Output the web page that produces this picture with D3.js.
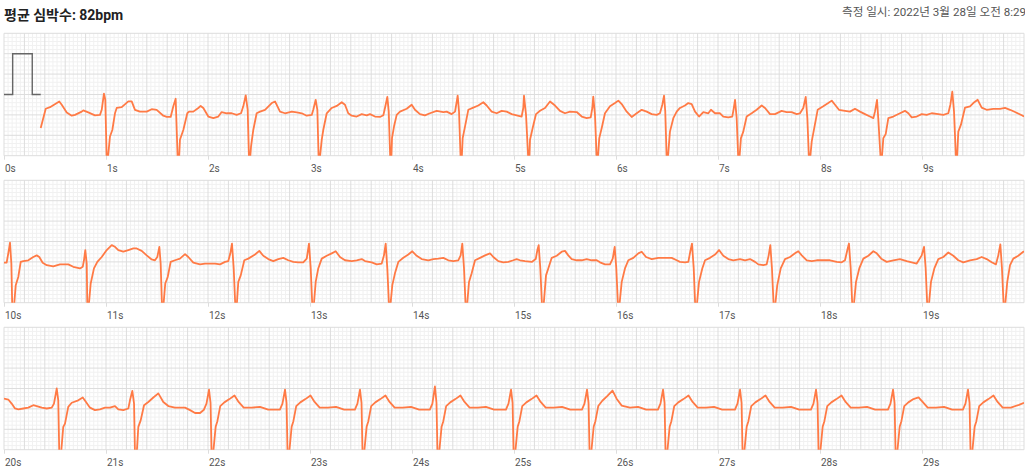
<!DOCTYPE html>
<html><head><meta charset="utf-8">
<script src="https://cdn.jsdelivr.net/npm/d3@7/dist/d3.min.js"></script>
<style>
body{margin:0;background:#fff;}
svg{display:block;font-family:Roboto,"Noto Sans CJK KR",sans-serif;}
</style></head>
<body><svg id="chart" width="1025" height="472"></svg>
<script>
// ---- data ----
const titleText = "평균 심박수: 82bpm";
const measuredText = "측정 일시: 2022년 3월 28일 오전 8:29";
const rowStartSeconds = [0, 10, 20];
const secondsPerRow = 10;
const mvDomain = [-1.5, 1.5];
const tickSeconds = [[0,1,2,3,4,5,6,7,8,9],[10,11,12,13,14,15,16,17,18,19],[20,21,22,23,24,25,26,27,28,29]];
// calibration pulse (s, mV)
const calibration = [[0,0],[0.085,0],[0.085,1],[0.277,1],[0.277,0],[0.36,0]];
// ECG samples (s, mV)
const ecgRow1 = [
[0.360,-0.82],[0.409,-0.35],[0.451,-0.31],[0.542,-0.17],[0.566,-0.25],[0.615,-0.44],[0.664,-0.52],[0.696,-0.50],[0.762,-0.42],[0.777,-0.39],[0.826,-0.44],[0.892,-0.51],[0.941,-0.50],[0.958,-0.375],
[0.980,0.02],[0.993,-0.13],[1.007,-1.6],[1.017,-1.6],[1.039,-1.03],[1.062,-0.87],[1.088,-0.46],[1.105,-0.33],[1.154,-0.31],[1.219,-0.17],[1.252,-0.17],[1.284,-0.375],[1.333,-0.42],[1.399,-0.42],[1.448,-0.36],[1.497,-0.375],[1.562,-0.52],[1.595,-0.55],[1.634,-0.55],[1.660,-0.29],
[1.683,-0.105],[1.703,-1.6],[1.716,-1.6],[1.725,-1.11],[1.758,-0.87],[1.797,-0.46],[1.814,-0.42],[1.856,-0.42],[1.905,-0.33],[1.928,-0.28],[1.954,-0.33],[2.003,-0.54],[2.052,-0.58],[2.101,-0.54],[2.134,-0.43],[2.183,-0.46],[2.232,-0.46],[2.281,-0.50],[2.324,-0.46],[2.346,-0.29],
[2.370,-0.02],[2.389,-0.375],[2.402,-1.6],[2.412,-1.6],[2.422,-1.27],[2.444,-0.87],[2.477,-0.46],[2.510,-0.42],[2.559,-0.375],[2.625,-0.21],[2.657,-0.17],[2.706,-0.42],[2.755,-0.46],[2.821,-0.42],[2.870,-0.44],[2.919,-0.46],[2.968,-0.52],[3.017,-0.50],[3.032,-0.375],
[3.056,-0.13],[3.072,-0.375],[3.085,-1.6],[3.095,-1.6],[3.115,-1.11],[3.130,-0.87],[3.164,-0.46],[3.213,-0.33],[3.262,-0.28],[3.311,-0.19],[3.343,-0.25],[3.375,-0.46],[3.409,-0.52],[3.458,-0.54],[3.507,-0.48],[3.556,-0.51],[3.588,-0.48],[3.637,-0.54],[3.686,-0.55],[3.719,-0.51],[3.735,-0.33],
[3.758,-0.06],[3.772,-0.42],[3.787,-1.6],[3.797,-1.6],[3.804,-1.07],[3.824,-0.78],[3.850,-0.50],[3.882,-0.42],[3.948,-0.35],[3.997,-0.25],[4.029,-0.375],[4.078,-0.48],[4.127,-0.51],[4.176,-0.46],[4.242,-0.40],[4.307,-0.43],[4.340,-0.42],[4.389,-0.48],[4.422,-0.42],
[4.448,-0.03],[4.461,-0.42],[4.477,-1.6],[4.487,-1.6],[4.497,-1.07],[4.520,-0.78],[4.552,-0.375],[4.601,-0.32],[4.650,-0.27],[4.699,-0.19],[4.732,-0.27],[4.781,-0.42],[4.830,-0.46],[4.879,-0.40],[4.928,-0.42],[4.977,-0.48],[5.026,-0.51],[5.075,-0.54],[5.091,-0.33],
[5.098,-0.03],[5.118,-0.50],[5.140,-1.6],[5.150,-1.6],[5.157,-1.11],[5.183,-0.82],[5.216,-0.48],[5.255,-0.40],[5.304,-0.33],[5.353,-0.17],[5.402,-0.27],[5.451,-0.40],[5.500,-0.46],[5.549,-0.42],[5.615,-0.43],[5.664,-0.54],[5.713,-0.58],[5.752,-0.56],[5.768,-0.33],
[5.777,-0.05],[5.794,-0.50],[5.811,-1.6],[5.821,-1.6],[5.836,-1.07],[5.860,-0.82],[5.892,-0.46],[5.941,-0.29],[5.990,-0.21],[6.023,-0.15],[6.056,-0.235],[6.105,-0.42],[6.154,-0.55],[6.203,-0.46],[6.252,-0.375],[6.301,-0.42],[6.350,-0.48],[6.399,-0.50],[6.431,-0.46],[6.454,-0.25],
[6.471,-0.03],[6.483,-0.42],[6.497,-1.6],[6.507,-1.6],[6.529,-0.91],[6.562,-0.58],[6.595,-0.42],[6.627,-0.33],[6.676,-0.27],[6.709,-0.21],[6.742,-0.235],[6.775,-0.42],[6.814,-0.54],[6.856,-0.43],[6.905,-0.46],[6.931,-0.375],[6.971,-0.46],[7.020,-0.46],[7.052,-0.54],[7.101,-0.56],[7.140,-0.54],[7.152,-0.375],
[7.167,-0.13],[7.183,-0.58],[7.199,-1.6],[7.209,-1.6],[7.225,-1.07],[7.248,-0.91],[7.281,-0.54],[7.330,-0.46],[7.379,-0.375],[7.428,-0.27],[7.461,-0.33],[7.510,-0.48],[7.559,-0.48],[7.624,-0.40],[7.673,-0.43],[7.722,-0.43],[7.771,-0.48],[7.804,-0.46],[7.836,-0.33],
[7.860,-0.06],[7.876,-0.58],[7.892,-1.6],[7.902,-1.6],[7.919,-1.15],[7.944,-0.82],[7.977,-0.375],[8.032,-0.29],[8.081,-0.21],[8.115,-0.15],[8.147,-0.25],[8.186,-0.375],[8.245,-0.40],[8.294,-0.42],[8.343,-0.35],[8.392,-0.42],[8.441,-0.48],[8.490,-0.54],[8.523,-0.58],[8.539,-0.42],
[8.559,-0.13],[8.571,-0.58],[8.595,-1.6],[8.605,-1.6],[8.621,-1.07],[8.644,-0.97],[8.670,-0.58],[8.719,-0.54],[8.784,-0.46],[8.833,-0.40],[8.866,-0.46],[8.899,-0.56],[8.948,-0.54],[8.997,-0.48],[9.046,-0.50],[9.095,-0.46],[9.160,-0.48],[9.209,-0.50],[9.258,-0.46],[9.278,-0.25],
[9.297,0.07],[9.314,-0.42],[9.333,-1.6],[9.343,-1.6],[9.356,-0.91],[9.382,-0.74],[9.422,-0.32],[9.471,-0.29],[9.503,-0.21],[9.546,-0.13],[9.585,-0.32],[9.634,-0.375],[9.699,-0.35],[9.765,-0.35],[9.814,-0.33],[9.863,-0.375],[9.912,-0.43],[9.978,-0.51],[10.0,-0.54]
];
const ecgRow2 = [
[10.000,-0.52],[10.026,-0.52],[10.042,-0.29],
[10.059,-0.03],[10.072,-0.54],[10.081,-1.6],[10.098,-1.6],[10.115,-1.07],[10.140,-0.87],[10.164,-0.50],[10.189,-0.48],[10.238,-0.46],[10.287,-0.38],[10.321,-0.34],[10.346,-0.38],[10.379,-0.52],[10.419,-0.58],[10.483,-0.61],[10.549,-0.56],[10.581,-0.56],[10.630,-0.56],[10.679,-0.62],[10.745,-0.66],[10.772,-0.62],[10.784,-0.46],
[10.797,-0.21],[10.811,-0.54],[10.817,-1.6],[10.830,-1.6],[10.850,-1.03],[10.882,-0.66],[10.915,-0.50],[10.958,-0.38],[11.007,-0.21],[11.056,-0.09],[11.088,-0.13],[11.121,-0.21],[11.170,-0.25],[11.219,-0.21],[11.268,-0.17],[11.301,-0.17],[11.350,-0.23],[11.399,-0.34],[11.448,-0.44],[11.480,-0.46],[11.503,-0.38],
[11.523,-0.13],[11.536,-0.54],[11.549,-1.6],[11.562,-1.6],[11.581,-1.03],[11.605,-0.87],[11.634,-0.50],[11.676,-0.46],[11.725,-0.42],[11.775,-0.31],[11.807,-0.38],[11.856,-0.52],[11.922,-0.56],[11.971,-0.54],[12.020,-0.54],[12.069,-0.54],[12.118,-0.56],[12.167,-0.50],[12.199,-0.48],[12.219,-0.29],
[12.235,-0.05],[12.252,-0.66],[12.268,-1.6],[12.281,-1.6],[12.297,-0.99],[12.321,-0.83],[12.356,-0.46],[12.395,-0.42],[12.461,-0.32],[12.503,-0.23],[12.542,-0.35],[12.591,-0.43],[12.640,-0.48],[12.689,-0.43],[12.738,-0.40],[12.787,-0.46],[12.836,-0.50],[12.885,-0.51],[12.934,-0.51],[12.968,-0.42],
[12.990,-0.05],[13.007,-0.66],[13.023,-1.6],[13.036,-1.6],[13.056,-0.99],[13.081,-0.66],[13.115,-0.42],[13.164,-0.35],[13.213,-0.29],[13.252,-0.24],[13.294,-0.38],[13.343,-0.46],[13.409,-0.48],[13.458,-0.46],[13.507,-0.43],[13.539,-0.48],[13.605,-0.51],[13.654,-0.56],[13.703,-0.54],[13.725,-0.34],
[13.742,-0.05],[13.758,-0.66],[13.775,-1.6],[13.787,-1.6],[13.807,-1.07],[13.833,-0.78],[13.866,-0.50],[13.915,-0.40],[13.964,-0.32],[14.003,-0.24],[14.046,-0.35],[14.095,-0.43],[14.160,-0.46],[14.209,-0.43],[14.258,-0.42],[14.307,-0.40],[14.356,-0.46],[14.405,-0.48],[14.454,-0.46],[14.477,-0.34],
[14.493,-0.05],[14.510,-0.66],[14.526,-1.6],[14.539,-1.6],[14.559,-0.99],[14.585,-0.78],[14.618,-0.46],[14.667,-0.40],[14.716,-0.34],[14.765,-0.29],[14.797,-0.38],[14.846,-0.48],[14.895,-0.51],[14.944,-0.50],[14.993,-0.46],[15.026,-0.43],[15.059,-0.46],[15.108,-0.48],[15.174,-0.50],[15.213,-0.43],[15.229,-0.21],
[15.242,-0.09],[15.258,-0.66],[15.275,-1.6],[15.289,-1.6],[15.314,-0.83],[15.336,-0.66],[15.370,-0.40],[15.419,-0.35],[15.468,-0.25],[15.500,-0.23],[15.532,-0.34],[15.566,-0.43],[15.615,-0.46],[15.664,-0.46],[15.713,-0.43],[15.762,-0.46],[15.811,-0.46],[15.843,-0.51],[15.892,-0.56],[15.941,-0.56],[15.968,-0.42],
[15.987,-0.13],[16.003,-0.66],[16.020,-1.6],[16.032,-1.6],[16.056,-0.99],[16.088,-0.66],[16.121,-0.46],[16.170,-0.40],[16.219,-0.29],[16.252,-0.25],[16.294,-0.38],[16.350,-0.43],[16.415,-0.40],[16.480,-0.40],[16.546,-0.40],[16.595,-0.46],[16.627,-0.50],[16.676,-0.51],[16.709,-0.50],[16.728,-0.25],
[16.745,-0.05],[16.762,-0.66],[16.777,-1.6],[16.791,-1.6],[16.814,-0.99],[16.846,-0.66],[16.873,-0.46],[16.922,-0.40],[16.971,-0.32],[17.010,-0.21],[17.052,-0.35],[17.101,-0.43],[17.150,-0.46],[17.216,-0.43],[17.265,-0.46],[17.314,-0.43],[17.363,-0.50],[17.395,-0.56],[17.444,-0.58],[17.477,-0.56],[17.497,-0.34],
[17.513,-0.09],[17.529,-0.66],[17.546,-1.6],[17.559,-1.6],[17.581,-1.07],[17.615,-0.66],[17.657,-0.43],[17.706,-0.38],[17.755,-0.29],[17.787,-0.24],[17.821,-0.34],[17.870,-0.46],[17.919,-0.48],[17.968,-0.46],[18.032,-0.46],[18.098,-0.46],[18.164,-0.50],[18.213,-0.51],[18.245,-0.46],[18.268,-0.21],
[18.284,-0.05],[18.301,-0.66],[18.317,-1.6],[18.330,-1.6],[18.353,-0.99],[18.385,-0.66],[18.425,-0.42],[18.474,-0.35],[18.523,-0.24],[18.556,-0.29],[18.605,-0.43],[18.654,-0.50],[18.719,-0.46],[18.784,-0.43],[18.850,-0.48],[18.899,-0.51],[18.948,-0.54],[18.997,-0.34],
[19.020,-0.13],[19.036,-0.66],[19.052,-1.6],[19.066,-1.6],[19.088,-0.99],[19.121,-0.66],[19.160,-0.43],[19.209,-0.38],[19.258,-0.27],[19.307,-0.35],[19.356,-0.46],[19.405,-0.51],[19.471,-0.46],[19.536,-0.43],[19.585,-0.38],[19.634,-0.43],[19.683,-0.51],[19.725,-0.56],[19.748,-0.34],
[19.768,-0.07],[19.784,-0.66],[19.801,-1.6],[19.814,-1.6],[19.836,-0.99],[19.863,-0.58],[19.895,-0.42],[19.944,-0.35],[19.993,-0.25],[20.0,-0.25]
];
const ecgRow3 = [
[20.000,-0.25],[20.042,-0.27],[20.075,-0.37],[20.108,-0.49],[20.140,-0.51],[20.189,-0.49],[20.238,-0.47],[20.287,-0.41],[20.321,-0.43],[20.370,-0.47],[20.419,-0.49],[20.468,-0.47],[20.490,-0.37],
[20.517,0.00],[20.532,-0.29],[20.542,-1.6],[20.559,-1.6],[20.581,-0.94],[20.598,-0.86],[20.630,-0.45],[20.664,-0.35],[20.728,-0.29],[20.772,-0.22],[20.804,-0.33],[20.843,-0.47],[20.892,-0.53],[20.941,-0.51],[20.990,-0.47],[21.039,-0.47],[21.088,-0.43],[21.121,-0.51],[21.170,-0.53],[21.219,-0.49],[21.235,-0.29],
[21.258,-0.06],[21.275,-0.37],[21.284,-1.6],[21.301,-1.6],[21.317,-0.94],[21.340,-0.78],[21.373,-0.41],[21.415,-0.33],[21.464,-0.22],[21.513,-0.12],[21.562,-0.33],[21.611,-0.43],[21.676,-0.47],[21.742,-0.47],[21.775,-0.47],[21.824,-0.53],[21.873,-0.60],[21.922,-0.60],[21.960,-0.52],[21.985,-0.37],
[22.010,-0.03],[22.025,-0.35],[22.035,-1.6],[22.050,-1.6],[22.075,-0.94],[22.092,-0.80],[22.120,-0.43],[22.160,-0.34],[22.210,-0.26],[22.260,-0.17],[22.300,-0.33],[22.350,-0.47],[22.430,-0.47],[22.510,-0.45],[22.590,-0.52],[22.705,-0.52],[22.730,-0.37],
[22.755,-0.03],[22.770,-0.35],[22.780,-1.6],[22.795,-1.6],[22.820,-0.94],[22.837,-0.80],[22.865,-0.43],[22.905,-0.34],[22.955,-0.26],[23.005,-0.17],[23.045,-0.33],[23.095,-0.47],[23.175,-0.47],[23.255,-0.45],[23.335,-0.52],[23.440,-0.52],[23.465,-0.37],
[23.490,-0.03],[23.505,-0.35],[23.515,-1.6],[23.530,-1.6],[23.555,-0.94],[23.572,-0.80],[23.600,-0.43],[23.640,-0.34],[23.690,-0.26],[23.740,-0.17],[23.780,-0.33],[23.830,-0.47],[23.910,-0.47],[23.990,-0.45],[24.070,-0.52],[24.175,-0.52],[24.200,-0.37],
[24.225,0.05],[24.240,-0.35],[24.250,-1.6],[24.265,-1.6],[24.290,-0.94],[24.307,-0.80],[24.335,-0.43],[24.375,-0.34],[24.425,-0.26],[24.475,-0.17],[24.515,-0.33],[24.565,-0.47],[24.645,-0.47],[24.725,-0.45],[24.805,-0.52],[24.921,-0.52],[24.946,-0.37],
[24.971,-0.03],[24.986,-0.35],[24.996,-1.6],[25.011,-1.6],[25.036,-0.94],[25.053,-0.80],[25.081,-0.43],[25.121,-0.34],[25.171,-0.26],[25.221,-0.17],[25.261,-0.33],[25.311,-0.47],[25.391,-0.47],[25.471,-0.45],[25.551,-0.52],[25.666,-0.52],[25.691,-0.37],
[25.716,-0.03],[25.731,-0.35],[25.741,-1.6],[25.756,-1.6],[25.781,-0.94],[25.798,-0.80],[25.826,-0.43],[25.866,-0.30],[25.916,-0.18],[25.966,-0.05],[26.006,-0.25],[26.056,-0.42],[26.136,-0.47],[26.216,-0.45],[26.296,-0.52],[26.411,-0.52],[26.436,-0.37],
[26.461,-0.03],[26.476,-0.35],[26.486,-1.6],[26.501,-1.6],[26.526,-0.94],[26.543,-0.80],[26.571,-0.43],[26.611,-0.34],[26.661,-0.26],[26.711,-0.17],[26.751,-0.33],[26.801,-0.47],[26.881,-0.47],[26.961,-0.45],[27.041,-0.52],[27.166,-0.52],[27.191,-0.37],
[27.216,-0.03],[27.231,-0.35],[27.241,-1.6],[27.256,-1.6],[27.281,-0.94],[27.298,-0.80],[27.326,-0.43],[27.366,-0.34],[27.416,-0.26],[27.466,-0.17],[27.506,-0.33],[27.556,-0.47],[27.636,-0.47],[27.716,-0.45],[27.796,-0.52],[27.911,-0.52],[27.936,-0.37],
[27.961,-0.03],[27.976,-0.35],[27.986,-1.6],[28.001,-1.6],[28.026,-0.94],[28.043,-0.80],[28.071,-0.43],[28.111,-0.34],[28.161,-0.26],[28.211,-0.17],[28.251,-0.33],[28.301,-0.47],[28.381,-0.47],[28.461,-0.45],[28.541,-0.52],[28.666,-0.52],[28.691,-0.37],
[28.716,-0.03],[28.731,-0.35],[28.741,-1.6],[28.756,-1.6],[28.781,-0.94],[28.798,-0.80],[28.826,-0.43],[28.866,-0.34],[28.916,-0.26],[28.966,-0.22],[29.006,-0.33],[29.056,-0.47],[29.136,-0.47],[29.216,-0.45],[29.296,-0.52],[29.401,-0.52],[29.426,-0.37],
[29.451,-0.03],[29.466,-0.35],[29.476,-1.6],[29.491,-1.6],[29.516,-0.94],[29.533,-0.80],[29.561,-0.43],[29.601,-0.34],[29.651,-0.26],[29.701,-0.17],[29.741,-0.33],[29.791,-0.47],[29.871,-0.47],[29.951,-0.40],[30.0,-0.35]
];
const ecgRows = [ecgRow1, ecgRow2, ecgRow3];

// ---- layout ----
const W = 1025, H = 472;
const left = 4, plotW = 1020, plotH = 122.4;
const rowTops = [33.3, 180.3, 327.3];
const ecgColor = "#ff7a45";

const svg = d3.select("#chart");
svg.append("rect").attr("width", W).attr("height", H).attr("fill", "#fff");

svg.append("text").attr("x", 4).attr("y", 20)
  .attr("font-size", 14).attr("font-weight", 700).attr("fill", "#222")
  .text(titleText);
svg.append("text").attr("x", 842).attr("y", 16)
  .attr("font-size", 11.6).attr("fill", "#555")
  .text(measuredText);

rowStartSeconds.forEach((start, r) => {
  const g = svg.append("g").attr("transform", `translate(${left},${rowTops[r]})`);
  const x = d3.scaleLinear().domain([start, start + secondsPerRow]).range([0, plotW]);
  const y = d3.scaleLinear().domain(mvDomain).range([plotH, 0]);

  // grid
  const nV = Math.round(secondsPerRow / 0.04);
  const nH = Math.round((mvDomain[1] - mvDomain[0]) / 0.1);
  const vIdx = d3.range(nV + 1), hIdx = d3.range(nH + 1);
  const grid = g.append("g");
  grid.selectAll(".vmin").data(vIdx.filter(i => i % 5 !== 0)).join("line")
    .attr("x1", i => x(start + i * 0.04)).attr("x2", i => x(start + i * 0.04))
    .attr("y1", 0).attr("y2", plotH).attr("stroke", "#f1f1f1").attr("stroke-width", 1);
  grid.selectAll(".hmin").data(hIdx.filter(i => i % 5 !== 0)).join("line")
    .attr("y1", i => y(mvDomain[0] + i * 0.1)).attr("y2", i => y(mvDomain[0] + i * 0.1))
    .attr("x1", 0).attr("x2", plotW).attr("stroke", "#f1f1f1").attr("stroke-width", 1);
  grid.selectAll(".vmaj").data(vIdx.filter(i => i % 5 === 0)).join("line")
    .attr("x1", i => x(start + i * 0.04)).attr("x2", i => x(start + i * 0.04))
    .attr("y1", 0).attr("y2", plotH).attr("stroke", "#dddddd").attr("stroke-width", 1);
  grid.selectAll(".hmaj").data(hIdx.filter(i => i % 5 === 0)).join("line")
    .attr("y1", i => y(mvDomain[0] + i * 0.1)).attr("y2", i => y(mvDomain[0] + i * 0.1))
    .attr("x1", 0).attr("x2", plotW).attr("stroke", "#dddddd").attr("stroke-width", 1);

  // axis
  const axis = d3.axisBottom(x).tickValues(tickSeconds[r]).tickFormat(d => d + "s")
    .tickSizeInner(4).tickSizeOuter(0).tickPadding(5.4);
  const ag = g.append("g").attr("transform", `translate(0,${plotH})`).call(axis);
  ag.select(".domain").remove();
  ag.selectAll(".tick line").attr("stroke", "#dddddd");
  ag.selectAll(".tick text").attr("text-anchor", "start").attr("x", 0.5)
    .attr("fill", "#555").attr("font-size", 10).attr("font-family", "Roboto, sans-serif");

  // clip
  const cid = "clip" + r;
  g.append("clipPath").attr("id", cid).append("rect")
    .attr("x", 0).attr("y", 0).attr("width", plotW).attr("height", plotH);

  const line = d3.line().x(d => x(d[0])).y(d => y(d[1]));
  if (r === 0) {
    g.append("path").datum(calibration).attr("d", line)
      .attr("fill", "none").attr("stroke", "#666").attr("stroke-width", 1.4);
  }
  g.append("path").datum(ecgRows[r]).attr("d", line)
    .attr("clip-path", `url(#${cid})`)
    .attr("fill", "none").attr("stroke", ecgColor).attr("stroke-width", 1.8)
    .attr("stroke-linejoin", "round");
});
</script></body></html>
